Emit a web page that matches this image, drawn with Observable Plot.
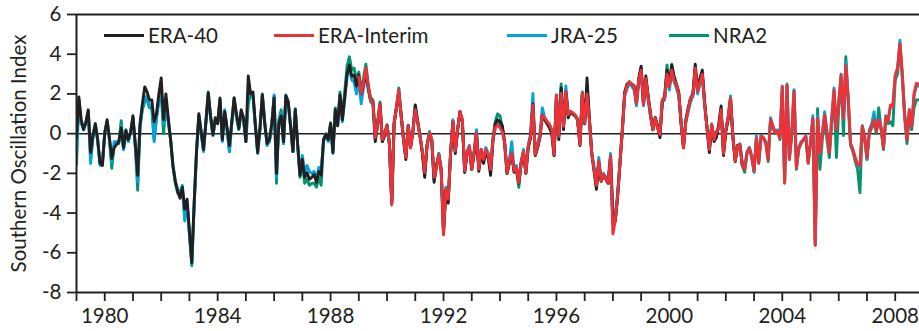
<!DOCTYPE html>
<html>
<head>
<meta charset="utf-8">
<script src="https://cdn.jsdelivr.net/npm/d3@7"></script>
<script src="https://cdn.jsdelivr.net/npm/@observablehq/plot@0.6"></script>
<style>
  html, body { margin: 0; padding: 0; background: #fff; }
  #wrap { position: relative; width: 919px; height: 331px; font-family: Lato, "Open Sans", sans-serif; color: #231f20; }
  .leg { position: absolute; top: 23px; display: flex; align-items: center; font-size: 20.5px; line-height: 24px; white-space: nowrap; }
  .leg .sw { display: inline-block; width: 40px; height: 3px; margin-right: 4px; }
</style>
</head>
<body>
<div id="wrap"></div>
<script>
// ---------------- data (monthly values) ----------------
const seriesNames = ["ERA-40", "ERA-Interim", "JRA-25", "NRA2"];
const seriesColors = ["#231f20", "#ed3237", "#00a3e0", "#00936e"];
const seriesStart = [1979, 1989, 1979, 1979];

const era40 = [
  -0.2, 1.85, 0.7, 0.2, 0.6, 1.2, -0.95, -0.1, 0.5, -0.3, -1.5, -1.6,
  0.0, 0.7, -0.2, -1.25, -0.7, -0.55, -0.4, 0.3, -0.7, 0.15, -0.3, 0.05,
  0.9, -0.5, -2.1, 0.5, 1.5, 2.35, 2.1, 1.7, 1.7, 0.6, 1.0, 2.0,
  2.8, 0.7, 2.0, 0.8, -0.3, -1.6, -2.4, -2.9, -3.25, -2.7, -3.8, -3.3,
  -4.9, -6.5, -3.5, -0.9, 1.0, 0.1, -0.8, 0.6, 2.05, 0.9, -0.05, 0.8,
  0.5, 1.8, -0.3, 1.1, 0.3, -0.6, 0.6, 1.8, 1.0, 0.25, 1.2, 0.8,
  -0.4, 2.9, 2.0, 2.1, 0.5, -0.95, 0.3, 1.95, 0.5, -0.5, -0.3, 0.5,
  1.8, -2.0, 0.5, 0.9, -0.4, 1.9, 1.6, 0.4, -0.9, 1.2, -0.5, -2.1,
  -1.3, -2.2, -1.97, -2.3, -2.2, -2.05, -2.45, -1.9, -2.1, -0.3, -0.05, -0.3,
  0.5, -0.95, 1.2, 0.4, 1.95, 0.7, 1.8, 3.0, 3.45, 2.9, 2.95, 2.4,
  2.95, 2.0, 2.5, 3.1, 2.3, 1.7, 1.6, -0.4, 0.5, 1.5, -0.4, -0.1,
  0.4, -0.5, -3.5, 0.5, 1.3, 2.0, 0.9, -0.3, -1.3, 0.4, -0.7, 0.1,
  1.45, 0.6, -0.1, -1.0, -2.2, -0.6, 0.0, -0.35, -2.45, -1.6, -1.1, -1.85,
  -4.9, -2.9, -3.5, -1.0, 0.6, -1.0, 0.2, 1.1, 0.6, -1.95, -1.0, -0.7,
  -1.8, -1.0, 0.0, -1.9, -1.0, -1.5, -1.0, -1.2, -2.1, -0.4, 0.5, 0.7,
  0.6, 0.4, -0.5, -2.0, -1.5, -1.0, -1.95, -1.8, -2.5, -1.5, -1.0, -2.0,
  -0.7, -0.2, 1.5, -1.1, -0.7, -0.2, 0.9, 0.7, 0.5, 0.3, 0.0, -1.1,
  1.9, -0.3, 2.3, 0.2, 2.1, 0.8, 1.1, 1.0, 0.9, 0.7, -0.6, 2.0,
  0.5, 2.8, 0.8, -1.0, -1.9, -2.8, -1.5, -2.4, -2.1, -2.3, -2.5, -1.2,
  -4.4, -4.4, -3.2, -1.5, 0.2, 2.1, 2.5, 2.6, 2.5, 2.4, 1.6, 2.8,
  3.4, 1.5, 2.9, 1.9, 1.0, 0.2, 0.8, 0.4, -0.2, 1.6, 1.9, 3.2,
  2.4, 3.45, 2.9, 2.5, 2.1, 0.5, -0.7, 0.7, 1.3, 1.8, 2.0, 3.5,
  2.2, 2.8, 3.2, 1.6, 0.3, -0.95, 0.4, -0.4, -0.2, 0.5, 1.4, -1.1,
  0.1, 0.7, 1.7, -0.2, -1.4, -0.6, -0.6, -1.6
];

const eraInterim = [
  2.85, 2.0, 2.6, 3.3, 2.4, 1.7, 1.6, -0.2, 0.5, 1.5, -0.3, 0.0,
  0.4, -0.5, -3.6, 0.5, 1.3, 2.2, 0.87, -0.3, -1.2, 0.37, -0.72, 0.12,
  1.2, 0.6, -0.13, -0.88, -1.95, -0.63, 0.03, -0.3, -2.2, -1.72, -1.05, -1.8,
  -5.1, -2.8, -3.3, -1.0, 0.62, -0.88, 0.2, 1.12, 0.7, -1.88, -0.97, -0.63,
  -1.8, -0.97, 0.03, -1.8, -0.8, -1.3, -0.8, -1.05, -1.8, -0.3, 0.3, 0.45,
  0.3, 0.1, -0.47, -1.97, -1.4, -0.97, -1.88, -1.72, -2.47, -1.47, -0.88, -1.97,
  -0.63, -0.13, 1.45, -1.05, -0.63, -0.1, 0.95, 0.78, 0.62, 0.45, 0.2, -1.05,
  1.95, -0.13, 2.03, 0.37, 2.12, 0.95, 1.12, 1.05, 0.95, 0.7, -0.55, 2.03,
  0.53, 2.0, 0.7, -0.97, -1.8, -2.6, -1.38, -2.38, -2.05, -2.3, -2.47, -1.13,
  -5.05, -4.38, -3.13, -1.5, 0.12, 1.95, 2.4, 2.62, 2.5, 2.37, 1.53, 2.7,
  3.2, 1.45, 2.78, 1.8, 0.95, 0.2, 0.78, 0.28, -0.05, 1.7, 1.78, 3.0,
  2.37, 3.2, 2.7, 2.45, 2.0, 0.53, -0.72, 0.6, 1.2, 1.78, 1.95, 3.3,
  2.12, 2.6, 3.0, 1.5, 0.28, -0.8, 0.45, -0.3, 0.1, 0.3, 1.2, -1.0,
  0.2, 0.8, 1.78, -0.13, -1.38, -0.63, -0.55, -1.55, -1.8, -0.97, -0.72, -1.2,
  -1.88, -0.22, -1.47, -0.13, -0.22, -0.5, -1.3, 0.7, 0.37, 0.03, 0.12, -0.22,
  2.37, -2.47, 2.45, -1.3, -0.05, 2.12, -1.72, -0.72, -0.47, -0.3, -0.13, -1.47,
  -0.47, 0.78, -5.63, 0.78, -0.97, -0.05, 0.95, 0.03, -0.97, 0.7, 2.2, 0.2,
  1.6, 2.95, 0.78, 3.45, 1.78, -0.47, -0.8, -1.22, -1.55, -1.63, 0.37, -0.13,
  -1.22, 0.12, 0.4, 0.7, 0.12, 0.7, 0.28, -0.72, 0.87, 0.62, 1.45, 1.37,
  2.95, 3.28, 4.53, 3.03, 1.03, -0.3, 1.2, 0.37, 2.03, 2.53, 2.5
];

const jra25 = [
  -0.8, 1.7, 0.6, 0.2, 0.5, 1.1, -1.5, -0.2, 0.4, -0.4, -1.6, -1.5,
  0.0, 0.6, -0.3, -1.45, -0.4, -0.4, -0.4, 0.4, -0.8, 0.1, -0.4, 0.1,
  0.8, -0.6, -2.4, 0.4, 1.3, 1.8, 1.9, 1.4, 1.4, -0.4, 0.8, 1.7,
  2.3, 0.5, 1.6, 0.6, -0.3, -1.6, -2.4, -2.8, -3.0, -2.6, -4.4, -3.5,
  -5.0, -6.55, -3.6, -1.0, 0.9, 0.0, -0.9, 0.5, 1.9, 0.8, -0.1, 0.7,
  0.5, 1.7, -0.4, 1.2, 0.2, -0.9, 0.5, 1.7, 0.8, 0.2, 1.1, 0.7,
  -0.4, 1.8, 2.1, 1.9, 0.4, -1.0, 0.2, 1.9, 0.6, -0.6, -0.4, 0.4,
  1.95, -2.2, 0.6, 1.0, -0.5, 1.9, 1.5, 0.3, -0.9, 1.2, -0.6, -2.0,
  -1.1, -2.0, -1.6, -1.9, -2.0, -1.9, -2.3, -1.7, -1.8, -0.4, -0.1, -0.4,
  0.4, -1.0, 1.0, 0.4, 1.8, 0.6, 1.7, 2.9, 3.3, 2.7, 2.6, 2.0,
  2.7, 1.5, 2.3, 3.1, 2.2, 1.6, 1.5, -0.3, 0.4, 1.4, -0.4, 0.0,
  0.3, -0.6, -3.5, 0.5, 1.3, 2.1, 0.9, -0.3, -1.2, 0.4, -0.7, 0.1,
  1.4, 0.7, -0.1, -0.9, -2.0, -0.6, 0.1, -0.3, -2.3, -1.6, -1.0, -1.7,
  -5.0, -2.7, -3.4, -0.9, 0.7, -0.9, 0.2, 1.1, 0.7, -1.95, -0.9, -0.6,
  -1.8, -0.9, 0.2, -1.7, -0.8, -1.2, -0.7, -1.0, -1.9, -0.3, 0.3, 0.6,
  0.5, 0.3, -0.4, -1.9, -1.3, -0.4, -1.8, -1.6, -2.5, -1.4, -0.8, -1.9,
  -0.6, 0.0, 2.03, -1.0, -0.5, 0.0, 1.3, 0.8, 0.6, 0.5, 0.2, -1.0,
  1.9, -0.1, 2.2, 0.4, 2.4, 0.9, 1.1, 1.0, 0.9, 0.7, -0.5, 2.0,
  0.5, 2.3, 0.7, -0.9, -1.7, -2.5, -1.2, -2.3, -2.0, -2.2, -2.3, -1.0,
  -3.8, -4.2, -3.0, -1.4, 0.2, 1.9, 2.3, 2.5, 2.4, 2.2, 1.4, 2.6,
  3.1, 1.4, 2.7, 1.7, 0.8, 0.2, 0.8, 0.3, -0.1, 1.6, 1.7, 2.9,
  2.2, 3.1, 2.6, 2.3, 1.9, 0.5, -0.6, 0.6, 1.1, 1.6, 1.9, 3.2,
  2.0, 2.5, 2.9, 1.4, 0.3, -0.7, 0.5, -0.2, 0.1, 0.3, 1.2, -0.9,
  0.2, 0.9, 1.9, -0.1, -1.3, -0.6, -0.5, -1.5, -1.7, -0.9, -0.7, -1.1,
  -1.9, -0.1, -1.4, -0.1, -0.2, -0.4, -1.2, 0.8, 0.4, 0.1, 0.2, -0.2,
  2.4, -2.4, 2.5, -1.2, 0.0, 2.2, -1.6, -0.7, -0.4, -0.3, -0.1, -1.4,
  -0.4, 0.9, -5.6, 0.9, -1.0, 0.0, 1.1, 0.1, -0.9, 0.8, 2.3, 0.3,
  1.6, 3.0, 0.8, 3.6, 1.8, -0.5, -0.8, -1.2, -1.6, -1.7, 0.4, -0.1,
  -1.3, 0.2, 0.5, 1.1, 0.2, 0.7, 0.3, -0.7, 0.9, 0.7, 1.4, 1.4,
  2.9, 3.3, 4.7, 3.0, 1.0, -0.2, 1.2, 0.4, 1.9, 2.4, 2.4
];

const nra2 = [
  -1.55, 1.7, 0.5, 0.3, 0.5, 1.1, -1.2, -0.1, 0.5, -0.3, -1.5, -1.6,
  0.1, 0.6, -0.3, -1.75, -0.6, -0.5, -0.5, 0.65, -0.8, 0.2, -0.4, 0.1,
  0.8, -0.7, -2.85, 0.3, 1.2, 1.6, 1.7, 1.3, 1.3, -0.3, 0.8, 1.6,
  2.0, 0.0, 1.5, 0.6, -0.3, -1.7, -2.5, -3.0, -3.0, -2.8, -4.2, -3.5,
  -5.1, -6.65, -3.7, -1.0, 0.9, 0.0, -0.8, 0.6, 2.1, 0.8, -0.1, 0.7,
  0.6, 1.7, -0.3, 1.1, 0.2, -0.9, 0.5, 1.8, 0.8, 0.3, 1.1, 0.7,
  -0.4, 1.5, 2.0, 1.9, 0.4, -0.9, 0.3, 2.0, 0.6, -0.5, -0.4, 0.4,
  1.9, -2.5, 0.7, 1.2, -0.5, 1.95, 1.6, 0.3, -0.9, 1.25, -0.6, -2.2,
  -1.5, -2.5, -2.3, -2.6, -2.5, -2.5, -2.7, -2.2, -2.6, -0.3, 0.0, -0.3,
  0.55, -0.9, 1.3, 0.5, 2.1, 0.9, 2.1, 3.4, 3.87, 3.2, 3.3, 2.7,
  3.1, 2.1, 2.8, 3.5, 2.5, 1.8, 1.7, -0.1, 0.6, 1.6, -0.3, 0.1,
  0.45, -0.4, -3.5, 0.6, 1.4, 2.3, 1.0, -0.2, -1.2, 0.4, -0.6, 0.2,
  1.3, 0.6, -0.1, -0.9, -2.0, -0.6, 0.1, -0.3, -2.3, -1.7, -1.0, -1.8,
  -5.0, -2.8, -3.3, -1.0, 0.6, -0.9, 0.2, 1.1, 0.7, -1.9, -1.0, -0.6,
  -1.8, -1.0, 0.1, -1.8, -0.8, -1.3, -0.8, -1.0, -1.9, -0.2, 0.6, 1.0,
  0.9, 0.3, -0.5, -2.0, -1.4, -1.0, -1.9, -1.8, -2.7, -1.5, -0.9, -2.0,
  -0.7, -0.2, 1.5, -1.1, -0.7, -0.1, 0.9, 0.8, 0.6, 0.4, 0.1, -1.1,
  1.9, -0.1, 2.5, 0.4, 2.1, 1.0, 1.1, 1.0, 0.9, 0.7, -0.5, 2.1,
  0.5, 2.3, 0.7, -1.0, -1.8, -2.7, -1.4, -2.4, -2.1, -2.3, -2.5, -1.2,
  -4.6, -4.4, -3.1, -1.5, 0.1, 1.9, 2.3, 2.6, 2.5, 2.4, 1.5, 2.7,
  3.3, 1.5, 2.8, 1.8, 0.9, 0.2, 0.8, 0.3, -0.1, 1.7, 1.8, 3.45,
  2.4, 3.5, 2.7, 2.4, 2.0, 0.5, -0.7, 0.6, 1.2, 1.7, 1.9, 3.3,
  2.1, 2.6, 3.0, 1.5, 0.3, -0.8, 0.4, -0.3, 0.1, 0.3, 1.2, -1.0,
  0.2, 0.8, 1.8, -0.1, -1.4, -0.6, -0.6, -1.6, -1.95, -1.0, -0.7, -1.2,
  -1.95, -0.2, -1.5, -0.1, -0.2, -0.5, -1.4, 0.7, 0.3, 0.0, 0.1, -0.3,
  2.2, -2.5, 2.4, -1.3, -0.1, 2.2, -1.8, -0.8, -0.5, -0.3, -0.2, -1.5,
  -0.5, 0.7, -5.6, 1.25, -1.8, -0.3, 0.8, -0.3, -1.2, 0.5, 2.0, -1.2,
  1.3, 2.8, -0.1, 3.87, 1.7, -0.6, -0.9, -1.4, -1.8, -2.97, 0.3, -0.3,
  -1.3, 0.0, 0.3, 0.6, 0.0, 1.3, 0.2, -0.8, 0.7, 0.5, 0.6, 0.4,
  2.7, 3.0, 4.5, 2.8, 0.8, -0.5, 1.0, 0.2, 1.3, 1.7, 1.7
];

const yTicks = [-8, -6, -4, -2, 0, 2, 4, 6];
const xTickYears = [1979, 1980, 1981, 1982, 1983, 1984, 1985, 1986, 1987, 1988, 1989, 1990, 1991, 1992, 1993, 1994, 1995, 1996, 1997, 1998, 1999, 2000, 2001, 2002, 2003, 2004, 2005, 2006, 2007, 2008];
const xLabelYears = [1980, 1984, 1988, 1992, 1996, 2000, 2004, 2008];
const yLabel = "Southern Oscillation Index";

// ---------------- build rows ----------------
function rows(name, start, values) {
  return values.map((v, i) => ({series: name, t: start + i / 12, v}));
}
const seriesValues = [era40, eraInterim, jra25, nra2];
const allRows = seriesValues.map((vals, k) => rows(seriesNames[k], seriesStart[k], vals));
// drawing order: NRA2, JRA-25, ERA-40, ERA-Interim
const drawOrder = [3, 2, 0, 1];

const ink = "#231f20";
const chart = Plot.plot({
  width: 919,
  height: 331,
  marginTop: 14,
  marginBottom: 39,
  marginLeft: 76,
  marginRight: 0,
  style: {fontFamily: "Lato, 'Open Sans', sans-serif", fontSize: "20.5px", color: ink, background: "white", overflow: "visible"},
  x: {domain: [1979, 2008.86]},
  y: {domain: [-8, 6]},
  marks: [
    Plot.ruleY([0], {stroke: ink, strokeWidth: 1.5}),
    ...drawOrder.map(k => Plot.line(allRows[k], {x: "t", y: "v", stroke: seriesColors[k], strokeWidth: 2.9, strokeLinejoin: "round", strokeLinecap: "round", clip: true})),
    Plot.ruleY([6], {stroke: ink, strokeWidth: 2}),
    Plot.ruleY([-8], {stroke: ink, strokeWidth: 2}),
    Plot.ruleX([1979], {stroke: ink, strokeWidth: 2}),
    Plot.axisX({ticks: xTickYears, tickSize: 9, tickPadding: 7, strokeWidth: 1.8, stroke: ink, tickFormat: d => xLabelYears.includes(d) ? String(d) : "", label: null, fontSize: 20.5, fill: ink}),
    Plot.axisY({ticks: yTicks, tickSize: 9, tickPadding: 6, strokeWidth: 1.8, stroke: ink, tickFormat: d => String(d), label: null, fontSize: 20.5, fill: ink}),
    Plot.text([yLabel], {frameAnchor: "left", dx: -57, rotate: -90, textAnchor: "middle", fontSize: 20.5, fill: ink})
  ]
});

const wrap = document.getElementById("wrap");
wrap.appendChild(chart);

// legend (inside the plot area, top)
const legendLeft = [104, 274, 507, 669];
seriesNames.forEach((name, k) => {
  const item = document.createElement("div");
  item.className = "leg";
  item.style.left = legendLeft[k] + "px";
  const sw = document.createElement("span");
  sw.className = "sw";
  sw.style.background = seriesColors[k];
  const tx = document.createElement("span");
  tx.textContent = name;
  item.appendChild(sw);
  item.appendChild(tx);
  wrap.appendChild(item);
});
</script>
</body>
</html>
